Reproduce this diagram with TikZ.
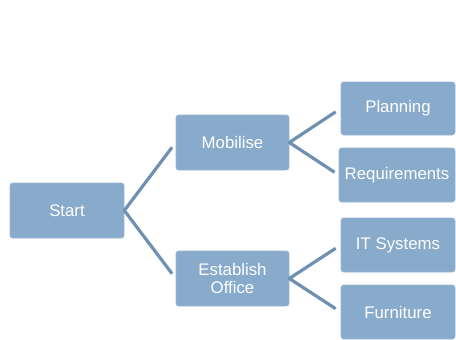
\documentclass[tikz,border=0pt]{standalone}
\usepackage{fontspec}
\setmainfont{Liberation Sans}
\usepackage{tikz}
\definecolor{boxblue}{RGB}{136,170,203}
\definecolor{lineblue}{RGB}{110,145,178}

\begin{document}
\begin{tikzpicture}[x=1pt,y=-1pt,line cap=round,line join=round,
	box/.style={fill=boxblue,draw=boxblue!85!white,line width=0.6pt,rounded corners=2.5pt,text=white,
		align=center,inner sep=0pt,font=\fontsize{16.8}{18}\selectfont},
	branch/.style={color=lineblue,line width=3.2pt,line cap=butt}]
	\useasboundingbox (0,0) rectangle (456,340);
	% level 0
	\node[box,minimum width=114,minimum height=55] (start) at (67,210.5) {Start};
	% level 1
	\node[box,minimum width=113,minimum height=55] (mob) at (232.5,142.5) {Mobilise};
	\node[box,minimum width=113,minimum height=55] (est) at (232.5,278.5) {Establish\\Office};
	% level 2
	\node[box,minimum width=114,minimum height=53] (plan) at (398,108.5) {Planning};
	\node[box,minimum width=116,minimum height=54] (req) at (397,175) {Requirements};
	\node[box,minimum width=114,minimum height=54] (its) at (398,245) {IT Systems};
	\node[box,minimum width=114,minimum height=54] (furn) at (398,312) {Furniture};

	\draw[branch,shorten <=6pt,shorten >=6pt] (mob.west) -- (start.east) -- (est.west);
	\draw[branch,shorten <=6pt,shorten >=5pt] (plan.west) -- (mob.east) -- (req.west);
	\draw[branch,shorten <=6pt,shorten >=6pt] (its.west) -- (est.east) -- (furn.west);
\end{tikzpicture}
\end{document}
